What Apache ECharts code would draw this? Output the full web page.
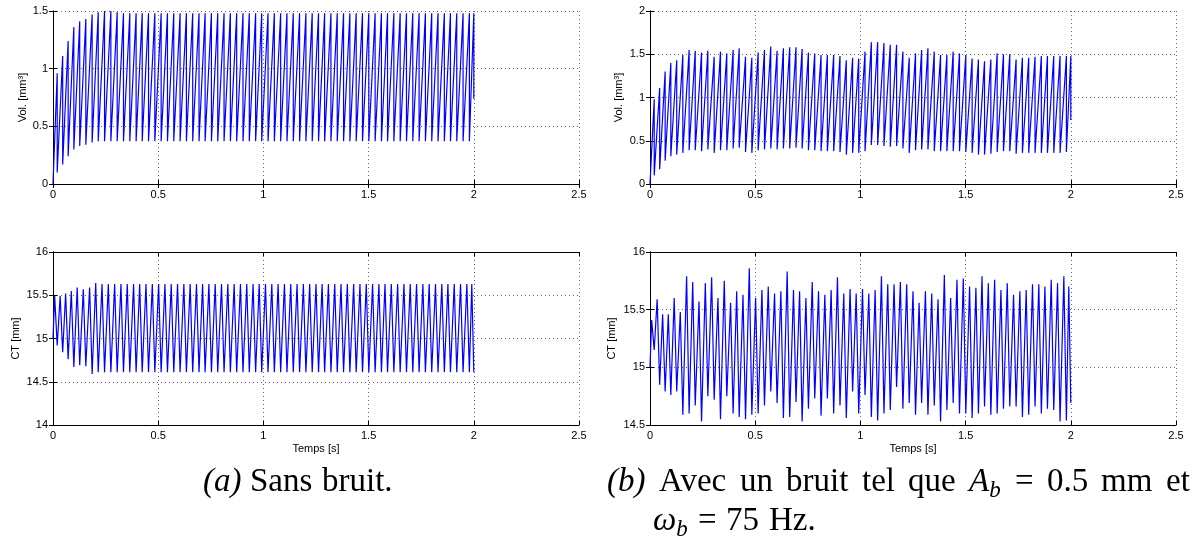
<!DOCTYPE html>
<html>
<head>
<meta charset="utf-8">
<script src="https://cdn.jsdelivr.net/npm/echarts@6/dist/echarts.min.js"></script>
<style>
  html, body { margin: 0; padding: 0; background: #fff; }
  #chart { width: 1194px; height: 545px; }
</style>
</head>
<body>
<div id="chart"></div>
<script>
// instants (s) of each sharp volume drop (same for both cases)
const cycleTimes = [
  0.020, 0.046, 0.072, 0.099, 0.127, 0.156, 0.186, 0.215, 0.245, 0.275,
  0.305, 0.335, 0.365, 0.395, 0.424, 0.454, 0.484, 0.514, 0.544, 0.574,
  0.604, 0.634, 0.664, 0.694, 0.723, 0.753, 0.783, 0.813, 0.843, 0.873,
  0.903, 0.933, 0.963, 0.992, 1.022, 1.052, 1.082, 1.112, 1.142, 1.172,
  1.202, 1.232, 1.262, 1.291, 1.321, 1.351, 1.381, 1.411, 1.441, 1.471,
  1.501, 1.531, 1.561, 1.590, 1.620, 1.650, 1.680, 1.710, 1.740, 1.770,
  1.800, 1.830, 1.860, 1.889, 1.919, 1.949, 1.979
];
const endTime = 2.0;
const ctPeakLead = 0.012;   // CT peak comes a little before the volume drop

// (a) sans bruit
const volPeaksA = [
  0.96, 1.11, 1.24, 1.36, 1.41, 1.43, 1.47, 1.49, 1.50, 1.50,
  1.49, 1.48, 1.48, 1.48, 1.48, 1.48, 1.48, 1.48, 1.48, 1.48,
  1.48, 1.48, 1.48, 1.48, 1.48, 1.48, 1.48, 1.48, 1.48, 1.48,
  1.48, 1.48, 1.48, 1.48, 1.48, 1.48, 1.48, 1.48, 1.48, 1.48,
  1.48, 1.48, 1.48, 1.48, 1.48, 1.48, 1.48, 1.48, 1.48, 1.48,
  1.48, 1.48, 1.48, 1.48, 1.48, 1.48, 1.48, 1.48, 1.48, 1.48,
  1.48, 1.48, 1.48, 1.48, 1.48, 1.48, 1.48, 1.48
];
const volTroughsA = [
  0.10, 0.17, 0.24, 0.30, 0.33, 0.34, 0.36, 0.37, 0.37, 0.37,
  0.37, 0.37, 0.37, 0.37, 0.37, 0.37, 0.37, 0.37, 0.37, 0.37,
  0.37, 0.37, 0.37, 0.37, 0.37, 0.37, 0.37, 0.37, 0.37, 0.37,
  0.37, 0.37, 0.37, 0.37, 0.37, 0.37, 0.37, 0.37, 0.37, 0.37,
  0.37, 0.37, 0.37, 0.37, 0.37, 0.37, 0.37, 0.37, 0.37, 0.37,
  0.37, 0.37, 0.37, 0.37, 0.37, 0.37, 0.37, 0.37, 0.37, 0.37,
  0.37, 0.37, 0.37, 0.37, 0.37, 0.37, 0.37
];
const volEndA = 0.74;

const ctStartA = 15.0;
const ctPeaksA = [
  15.49, 15.49, 15.52, 15.55, 15.59, 15.57, 15.59, 15.64, 15.63, 15.63,
  15.63, 15.63, 15.63, 15.63, 15.63, 15.63, 15.63, 15.63, 15.63, 15.63,
  15.63, 15.63, 15.63, 15.63, 15.63, 15.63, 15.63, 15.63, 15.63, 15.63,
  15.63, 15.63, 15.63, 15.63, 15.63, 15.63, 15.63, 15.63, 15.63, 15.63,
  15.63, 15.63, 15.63, 15.63, 15.63, 15.63, 15.63, 15.63, 15.63, 15.63,
  15.63, 15.63, 15.63, 15.63, 15.63, 15.63, 15.63, 15.63, 15.63, 15.63,
  15.63, 15.63, 15.63, 15.63, 15.63, 15.63, 15.63, 15.63
];
const ctTroughsA = [
  14.92, 14.84, 14.76, 14.67, 14.69, 14.68, 14.59, 14.61, 14.61, 14.61,
  14.61, 14.61, 14.61, 14.61, 14.61, 14.61, 14.61, 14.61, 14.61, 14.61,
  14.61, 14.61, 14.61, 14.61, 14.61, 14.61, 14.61, 14.61, 14.61, 14.61,
  14.61, 14.61, 14.61, 14.61, 14.61, 14.61, 14.61, 14.61, 14.61, 14.61,
  14.61, 14.61, 14.61, 14.61, 14.61, 14.61, 14.61, 14.61, 14.61, 14.61,
  14.61, 14.61, 14.61, 14.61, 14.61, 14.61, 14.61, 14.61, 14.61, 14.61,
  14.61, 14.61, 14.61, 14.61, 14.61, 14.61, 14.61
];
const ctEndA = 14.61;

// (b) avec bruit
const volPeaksB = [
  0.98, 1.11, 1.30, 1.40, 1.43, 1.49, 1.55, 1.54, 1.52, 1.54,
  1.47, 1.53, 1.51, 1.55, 1.57, 1.47, 1.46, 1.52, 1.55, 1.59,
  1.54, 1.57, 1.58, 1.58, 1.56, 1.52, 1.51, 1.49, 1.49, 1.49,
  1.48, 1.43, 1.46, 1.45, 1.53, 1.64, 1.64, 1.63, 1.61, 1.61,
  1.53, 1.46, 1.51, 1.55, 1.57, 1.53, 1.49, 1.49, 1.53, 1.51,
  1.49, 1.45, 1.44, 1.42, 1.44, 1.51, 1.50, 1.50, 1.44, 1.46,
  1.46, 1.47, 1.48, 1.48, 1.48, 1.48, 1.48, 1.48
];
const volTroughsB = [
  0.10, 0.17, 0.27, 0.32, 0.34, 0.36, 0.39, 0.39, 0.38, 0.40,
  0.36, 0.39, 0.39, 0.41, 0.42, 0.37, 0.36, 0.39, 0.40, 0.41,
  0.40, 0.41, 0.41, 0.42, 0.41, 0.39, 0.39, 0.38, 0.38, 0.38,
  0.37, 0.34, 0.36, 0.36, 0.38, 0.45, 0.45, 0.44, 0.43, 0.44,
  0.41, 0.36, 0.39, 0.40, 0.40, 0.38, 0.38, 0.38, 0.38, 0.38,
  0.37, 0.36, 0.34, 0.34, 0.35, 0.37, 0.38, 0.38, 0.35, 0.36,
  0.36, 0.36, 0.36, 0.36, 0.36, 0.36, 0.37
];
const volEndB = 0.74;

const ctStartB = 15.0;
const ctPeaksB = [
  15.41, 15.59, 15.46, 15.46, 15.60, 15.48, 15.79, 15.74, 15.57, 15.73,
  15.78, 15.60, 15.75, 15.56, 15.66, 15.63, 15.86, 15.60, 15.67, 15.70,
  15.64, 15.66, 15.83, 15.67, 15.66, 15.60, 15.74, 15.66, 15.63, 15.67,
  15.78, 15.64, 15.68, 15.64, 15.68, 15.64, 15.67, 15.79, 15.72, 15.72,
  15.74, 15.72, 15.66, 15.56, 15.66, 15.64, 15.59, 15.80, 15.60, 15.76,
  15.77, 15.70, 15.69, 15.79, 15.73, 15.76, 15.67, 15.73, 15.63, 15.66,
  15.67, 15.72, 15.72, 15.70, 15.76, 15.73, 15.79, 15.70
];
const ctTroughsB = [
  15.15, 14.85, 14.79, 14.76, 14.79, 14.59, 14.60, 14.67, 14.53, 14.75,
  14.72, 14.55, 14.75, 14.60, 14.57, 14.55, 14.59, 14.60, 14.67, 14.79,
  14.69, 14.56, 14.57, 14.70, 14.53, 14.64, 14.73, 14.58, 14.73, 14.60,
  14.67, 14.56, 14.79, 14.60, 14.76, 14.57, 14.54, 14.60, 14.63, 14.83,
  14.64, 14.69, 14.59, 14.69, 14.59, 14.67, 14.53, 14.63, 14.69, 14.60,
  14.60, 14.56, 14.60, 14.66, 14.59, 14.60, 14.64, 14.66, 14.66, 14.57,
  14.59, 14.66, 14.60, 14.64, 14.63, 14.53, 14.54
];
const ctEndB = 14.69;

// slow fill (slanted) then sharp drop (vertical) at each cycle instant
function volumeLine(peaks, troughs, endVal) {
  const pts = [[0, 0]];
  cycleTimes.forEach((t, i) => {
    pts.push([t, peaks[i]], [t, troughs[i]]);
  });
  pts.push([endTime, peaks[cycleTimes.length]], [endTime, endVal]);
  return pts;
}

function ctLine(startVal, peaks, troughs, endVal) {
  const pts = [[0, startVal]];
  cycleTimes.forEach((t, i) => {
    pts.push([t - ctPeakLead, peaks[i]], [t, troughs[i]]);
  });
  pts.push([endTime - ctPeakLead * 0.8, peaks[cycleTimes.length]], [endTime, endVal]);
  return pts;
}

const tickFont = { fontFamily: 'Liberation Sans, Arial, sans-serif', fontSize: 11, color: '#000' };
const dotted = { color: '#666', width: 1, type: [1, 3] };

const panels = [
  { left: 53, top: 11, yMin: 0, yMax: 1.5, yName: 'Vol. [mm³]', nameGap: 25, xName: '' },
  { left: 53, top: 252, yMin: 14, yMax: 16, yName: 'CT [mm]', nameGap: 32, xName: 'Temps [s]' },
  { left: 650, top: 11, yMin: 0, yMax: 2, yName: 'Vol. [mm³]', nameGap: 26, xName: '' },
  { left: 650, top: 252, yMin: 14.5, yMax: 16, yName: 'CT [mm]', nameGap: 33, xName: 'Temps [s]' }
];

const grid = [], xAxis = [], yAxis = [];
panels.forEach((p, k) => {
  grid.push({ left: p.left, top: p.top, width: 526, height: 173 });
  // bottom + top x axes (box with inward ticks)
  xAxis.push({
    gridIndex: k, type: 'value', min: 0, max: 2.5, interval: 0.5,
    name: p.xName, nameLocation: 'middle', nameGap: 18,
    nameTextStyle: tickFont,
    axisLine: { lineStyle: { color: '#000', width: 1 } },
    axisTick: { inside: true, length: 4, lineStyle: { color: '#000' } },
    axisLabel: Object.assign({ margin: 5 }, tickFont),
    splitLine: { show: true, lineStyle: dotted }
  });
  xAxis.push({
    gridIndex: k, type: 'value', min: 0, max: 2.5, interval: 0.5, position: 'top',
    axisLine: { lineStyle: { color: '#000', width: 1 } },
    axisTick: { inside: true, length: 4, lineStyle: { color: '#000' } },
    axisLabel: { show: false }, splitLine: { show: false }
  });
  yAxis.push({
    gridIndex: k, type: 'value', min: p.yMin, max: p.yMax, interval: 0.5,
    name: p.yName, nameLocation: 'middle', nameGap: p.nameGap, nameRotate: 90,
    nameTextStyle: tickFont,
    axisLine: { show: true, lineStyle: { color: '#000', width: 1 } },
    axisTick: { show: true, inside: true, length: 4, lineStyle: { color: '#000' } },
    axisLabel: Object.assign({ margin: 5 }, tickFont),
    splitLine: { show: true, lineStyle: dotted }
  });
  yAxis.push({
    gridIndex: k, type: 'value', min: p.yMin, max: p.yMax, interval: 0.5, position: 'right',
    axisLine: { show: true, lineStyle: { color: '#000', width: 1 } },
    axisTick: { show: true, inside: true, length: 4, lineStyle: { color: '#000' } },
    axisLabel: { show: false }, splitLine: { show: false }
  });
});

const seriesData = [
  volumeLine(volPeaksA, volTroughsA, volEndA),
  ctLine(ctStartA, ctPeaksA, ctTroughsA, ctEndA),
  volumeLine(volPeaksB, volTroughsB, volEndB),
  ctLine(ctStartB, ctPeaksB, ctTroughsB, ctEndB)
];

const series = seriesData.map((d, k) => ({
  type: 'line',
  xAxisIndex: 2 * k,
  yAxisIndex: 2 * k,
  data: d,
  showSymbol: false,
  symbol: 'none',
  clip: true,
  lineStyle: { color: '#0000ff', width: 1.2 }
}));

// ---- captions (LaTeX-like, serif) ----
const serifName = 'Liberation Serif';
const capSize = 33, subSize = 23;
const capRich = {
  it: { fontFamily: serifName, fontSize: capSize, fontStyle: 'italic', color: '#000' },
  sub: { fontFamily: serifName, fontSize: subSize, fontStyle: 'italic', color: '#000', padding: [17, 0, 0, 0] }
};
const measureCtx = document.createElement('canvas').getContext('2d');
function partWidth(txt, italic, size) {
  measureCtx.font = (italic ? 'italic ' : '') + size + 'px "' + serifName + '"';
  return measureCtx.measureText(txt).width;
}
// each word: rich text + the pieces used to measure it
function word(rich, pieces) {
  return { rich: rich, width: pieces.reduce((s, p) => s + partWidth(p[0], p[1], p[2]), 0) };
}
function plain(txt) { return word(txt, [[txt, false, capSize]]); }
function ital(txt) { return word('{it|' + txt + '}', [[txt, true, capSize]]); }
function withSub(base, sub) {
  return word('{it|' + base + '}{sub|' + sub + '}', [[base, true, capSize], [sub, true, subSize]]);
}

function capText(x, y, text) {
  return {
    type: 'text', left: x, top: y,
    style: { text: text, fontFamily: serifName, fontSize: capSize, fill: '#000', rich: capRich }
  };
}
// lay words out from x0 to x1 (justified) or with a fixed gap
function layoutLine(words, x0, y, x1, gap) {
  const total = words.reduce((s, w) => s + w.width, 0);
  const g = x1 != null ? (x1 - x0 - total) / (words.length - 1) : gap;
  let x = x0;
  return words.map(w => {
    const el = capText(Math.round(x), y, w.rich);
    x += w.width + g;
    return el;
  });
}

const capA = [ital('(a)'), plain('Sans'), plain('bruit.')];
const capB1 = [ital('(b)'), plain('Avec'), plain('un'), plain('bruit'), plain('tel'), plain('que'),
  withSub('A', 'b'), plain('='), plain('0.5'), plain('mm'), plain('et')];
const capB2 = [withSub('ω', 'b'), plain('='), plain('75'), plain('Hz.')];

const graphic = []
  .concat(layoutLine(capA, 203, 466, null, 9))
  .concat(layoutLine(capB1, 607, 466, 1190, 0))
  .concat(layoutLine(capB2, 653, 505, null, 10));

const chart = echarts.init(document.getElementById('chart'), null, { renderer: 'canvas' });
chart.setOption({
  animation: false,
  backgroundColor: '#fff',
  grid: grid,
  xAxis: xAxis,
  yAxis: yAxis,
  series: series,
  graphic: graphic
});
</script>
</body>
</html>
